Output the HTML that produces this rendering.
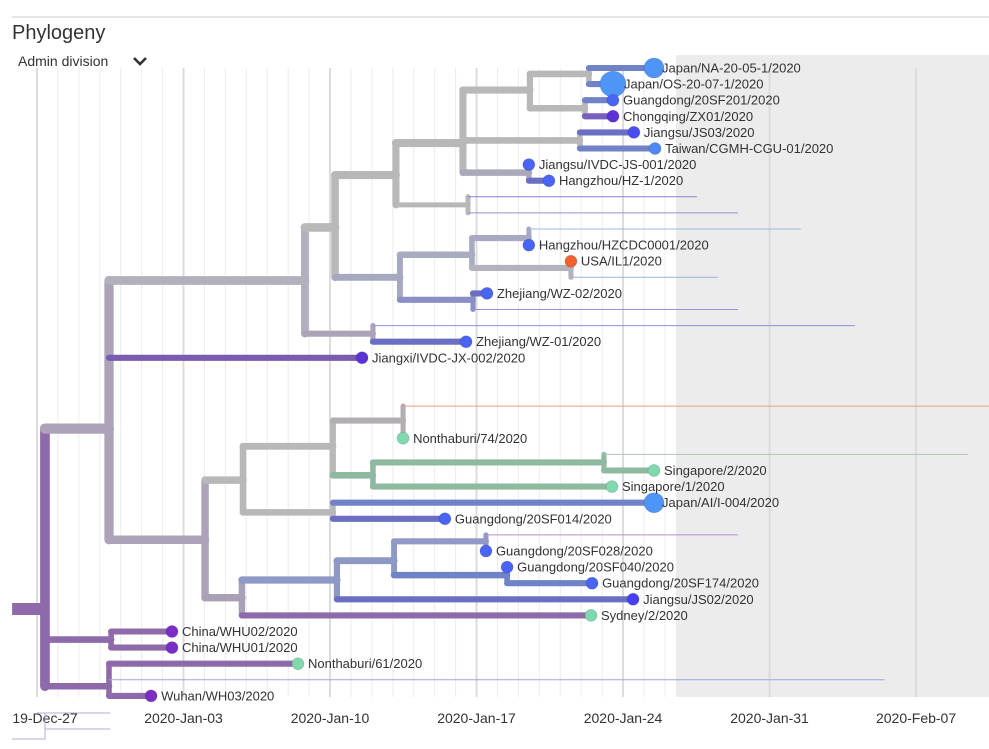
<!DOCTYPE html>
<html><head><meta charset="utf-8"><style>
body{margin:0;background:#fff;width:989px;height:749px;overflow:hidden;font-family:"Liberation Sans",sans-serif;}
svg{position:absolute;left:0;top:0}
</style></head><body>
<svg id="chart" width="989" height="749" xmlns="http://www.w3.org/2000/svg">
<line x1="12" y1="17" x2="989" y2="17" stroke="#ccc" stroke-width="1"/>
<text x="12" y="39" font-size="20" fill="#333">Phylogeny</text>
<g>
<text x="18" y="66" font-size="14" fill="#333">Admin division</text>
<path d="M134 58 L140 64 L146 58" fill="none" stroke="#333" stroke-width="2.6"/>
</g>
<rect x="676" y="55" width="313" height="642" fill="#ececec"/>
<g id="grid"></g>
<g id="axis"></g>
<g id="branches"></g>
<g id="tips"></g>
<g stroke="#b9a9d6" stroke-width="1" fill="none">
<path d="M37 713 H110 M45 713 V729 H110 M45 729 V739 H12"/>
</g>
</svg>
<script>
// x axis: days since 2019-12-27
const tickDays = [0,7,14,21,28,35,42];
const tickLabels = ["19-Dec-27","2020-Jan-03","2020-Jan-10","2020-Jan-17","2020-Jan-24","2020-Jan-31","2020-Feb-07"];
// tree nodes
const nodeNames = ["root","A","B","C","D","E","F","G","H","I","J","K","L","M","N","O","P","Q","R","S","T","U","V","W","X","Y","Z","AA","AB","AC","AD","AE",
"Japan/NA-20-05-1/2020","Japan/OS-20-07-1/2020","Guangdong/20SF201/2020","Chongqing/ZX01/2020","Jiangsu/JS03/2020","Taiwan/CGMH-CGU-01/2020","Jiangsu/IVDC-JS-001/2020","Hangzhou/HZ-1/2020",
"hidden-8","hidden-9","hidden-10","Hangzhou/HZCDC0001/2020","USA/IL1/2020","hidden-13","Zhejiang/WZ-02/2020","hidden-15","hidden-16","Zhejiang/WZ-01/2020","Jiangxi/IVDC-JX-002/2020",
"hidden-21","Nonthaburi/74/2020","hidden-24","Singapore/2/2020","Singapore/1/2020","Japan/AI/I-004/2020","Guangdong/20SF014/2020","hidden-29","Guangdong/20SF028/2020","Guangdong/20SF040/2020","Guangdong/20SF174/2020","Jiangsu/JS02/2020","Sydney/2/2020",
"China/WHU02/2020","China/WHU01/2020","Nonthaburi/61/2020","hidden-38","Wuhan/WH03/2020"];
const nodeParents = [-1,0,1,1,0,0,2,2,6,6,8,8,10,10,10,12,12,9,17,17,9,3,3,21,21,23,23,26,22,28,29,29,
15,15,16,16,13,13,14,14,
11,11,18,18,19,19,20,20,7,7,1,
25,25,27,27,26,24,24,30,30,31,31,28,22,
4,4,5,5,5];
const nodeDates = [0.38,3.44,12.8,8.03,3.54,3.44,14.24,16.05,17.15,17.34,20.35,20.59,23.55,25.94,23.5,26.37,26.18,20.78,23.5,25.51,20.83,9.84,9.79,14.14,14.14,17.49,16.05,27.09,14.33,17.06,21.45,22.46,
29.48,27.52,27.52,27.52,28.52,29.53,23.5,24.46,
31.53,33.49,36.5,23.5,25.51,32.54,21.5,33.49,39.08,20.5,15.53,
45.5,17.49,44.48,29.48,27.47,29.48,19.49,33.49,21.45,22.46,26.52,28.48,26.47,
6.45,6.45,12.47,40.5,5.45];
const nodeRows = [33.6,22.4,13.2,29.3,35.5,38.4,9.9,16.5,6.65,13.0,4.66,8.5,1.37,4.5,6.5,0.37,2.5,11.6,10.56,12.42,14.4,25.6,32.9,23.5,27.6,21.9,25.3,24.5,31.8,30.6,29.4,31.5,
0,1,2,3,4,5,6,7,
8,9,10,11,12,13,14,15,16,17,18,
21,23,24,25,26,27,28,29,30,31,32,33,34,
35,36,37,38,39];
const rootStemDate = -1.19;
// branch colours
const GR="#b8b8b9",PG="#aca3b9",PU="#8f6aab",BL="#6f83c6",BL2="#6a6fc4",GN="#8fb9a0";
const nodeColors = [PU,PG,"#b2b0bd",PG,PU,PU,"#b9b9b9",PG,GR,"#a6a8c0",GR,GR,GR,GR,"#a9a9bb",GR,GR,"#a9abc0","#a8aac3","#b4b2bc","#8a90c5",GR,"#a99fb6",GR,GR,"#b3adb4",GN,GN,"#8f99c5","#8d98c6","#9399c6",BL,
BL,BL,BL,"#7a5fbf",BL2,BL,BL2,BL2,
"#8f7ed0","#a08bd0","#9fb8d9","#8c95ce","#b9b9b9","#9fb0d8",BL2,"#a28cd4","#8f8fe0",BL2,"#7b5bb0",
"#ef9b7d",GR,"#a9c8b4",GN,GN,BL,BL2,"#b98fd0",BL,BL,BL,BL2,PU,
PU,PU,PU,"#9fa3d8",PU];
const tipDotColors = {"Japan/NA-20-05-1/2020":"#4f94f7","Japan/OS-20-07-1/2020":"#4f94f7","Japan/AI/I-004/2020":"#4f94f7","Taiwan/CGMH-CGU-01/2020":"#4f88f5",
"Chongqing/ZX01/2020":"#5a32d6","Jiangxi/IVDC-JX-002/2020":"#5a32d6","Jiangsu/JS02/2020":"#473ff2","Jiangsu/JS03/2020":"#4a4ef2",
"China/WHU02/2020":"#7a2ec6","China/WHU01/2020":"#7a2ec6","Wuhan/WH03/2020":"#7a2ec6",
"Nonthaburi/74/2020":"#80d8af","Nonthaburi/61/2020":"#80d8af","Singapore/2/2020":"#80d8af","Singapore/1/2020":"#80d8af","Sydney/2/2020":"#80d8af",
"USA/IL1/2020":"#f1612e"};
const tipRadii = {"Japan/NA-20-05-1/2020":10,"Japan/OS-20-07-1/2020":13,"Japan/AI/I-004/2020":10};

const X0=37, PXD=20.93, Y0=68, ROW=16.1;
const xScale=d=>X0+d*PXD, yScale=r=>Y0+r*ROW;
const NS="http://www.w3.org/2000/svg";
function mk(tag,attrs,parent){const e=document.createElementNS(NS,tag);for(const k in attrs)e.setAttribute(k,attrs[k]);parent.appendChild(e);return e;}

// grid
const grid=document.getElementById('grid');
for(let d=0;d<=45;d++){
  const major=d%7===0;
  const l=mk('line',{x1:xScale(d),x2:xScale(d),y1:68,y2:697,stroke:major?"#dcdcdc":"#ececec","stroke-width":major?2:1},grid);
  
  
}
const axis=document.getElementById('axis');
tickDays.forEach((d,i)=>{
  const t=mk('text',{x:xScale(d)+(i===0?8:0),y:723,"font-size":14,fill:"#333","text-anchor":"middle"},axis);
  t.textContent=tickLabels[i];
  
  
});

const kids=nodeNames.map(()=>[]);
nodeParents.forEach((p,i)=>{if(p>=0)kids[p].push(i);});
function countTips(i){return kids[i].length?kids[i].reduce((s,k)=>s+countTips(k),0):(nodeNames[i].startsWith("hidden")?0:1);}
function width(i){if(nodeNames[i].startsWith("hidden"))return 1;const c=countTips(i);return Math.min(11,5+Math.sqrt(c)*1.1);}

const br=document.getElementById('branches');
const stem=mk('line',{x1:xScale(rootStemDate),x2:xScale(nodeDates[0]),y1:yScale(nodeRows[0]),y2:yScale(nodeRows[0]),stroke:PU,"stroke-width":12},br);


nodeNames.forEach((n,i)=>{
  if(!kids[i].length)return;
  const ys=kids[i].map(k=>yScale(nodeRows[k]));
  const v=mk('line',{x1:xScale(nodeDates[i]),x2:xScale(nodeDates[i]),y1:Math.min(...ys),y2:Math.max(...ys),stroke:nodeColors[i],"stroke-width":Math.max(5,width(i)-1),"stroke-linecap":"round"},br);
  
  
});
nodeNames.forEach((n,i)=>{
  const p=nodeParents[i]; if(p<0)return;
  const hidden=n.startsWith("hidden");
  const h=mk('line',{x1:xScale(nodeDates[p]),x2:xScale(nodeDates[i]),y1:yScale(nodeRows[i]),y2:yScale(nodeRows[i]),stroke:nodeColors[i],"stroke-width":width(i),"stroke-linecap":hidden?"butt":"round"},br);
  
  
});
const tg=document.getElementById('tips');
nodeNames.forEach((n,i)=>{
  if(kids[i].length||n.startsWith("hidden"))return;
  const r=tipRadii[n]||6, x=xScale(nodeDates[i]), y=yScale(nodeRows[i]);
  const c=mk('circle',{cx:x,cy:y,r:r,fill:tipDotColors[n]||"#4a64f3",stroke:"rgba(0,0,0,0.12)","stroke-width":1},tg);
  
  
});
nodeNames.forEach((n,i)=>{
  if(kids[i].length||n.startsWith("hidden"))return;
  const r=tipRadii[n]||6, x=xScale(nodeDates[i]), y=yScale(nodeRows[i]);
  const t=mk('text',{x:x+(r>6?r-2:r+4),y:y+4.5,"font-size":13,fill:"#333"},tg);
  t.textContent=n;
  
  
});
</script>
</body></html>
